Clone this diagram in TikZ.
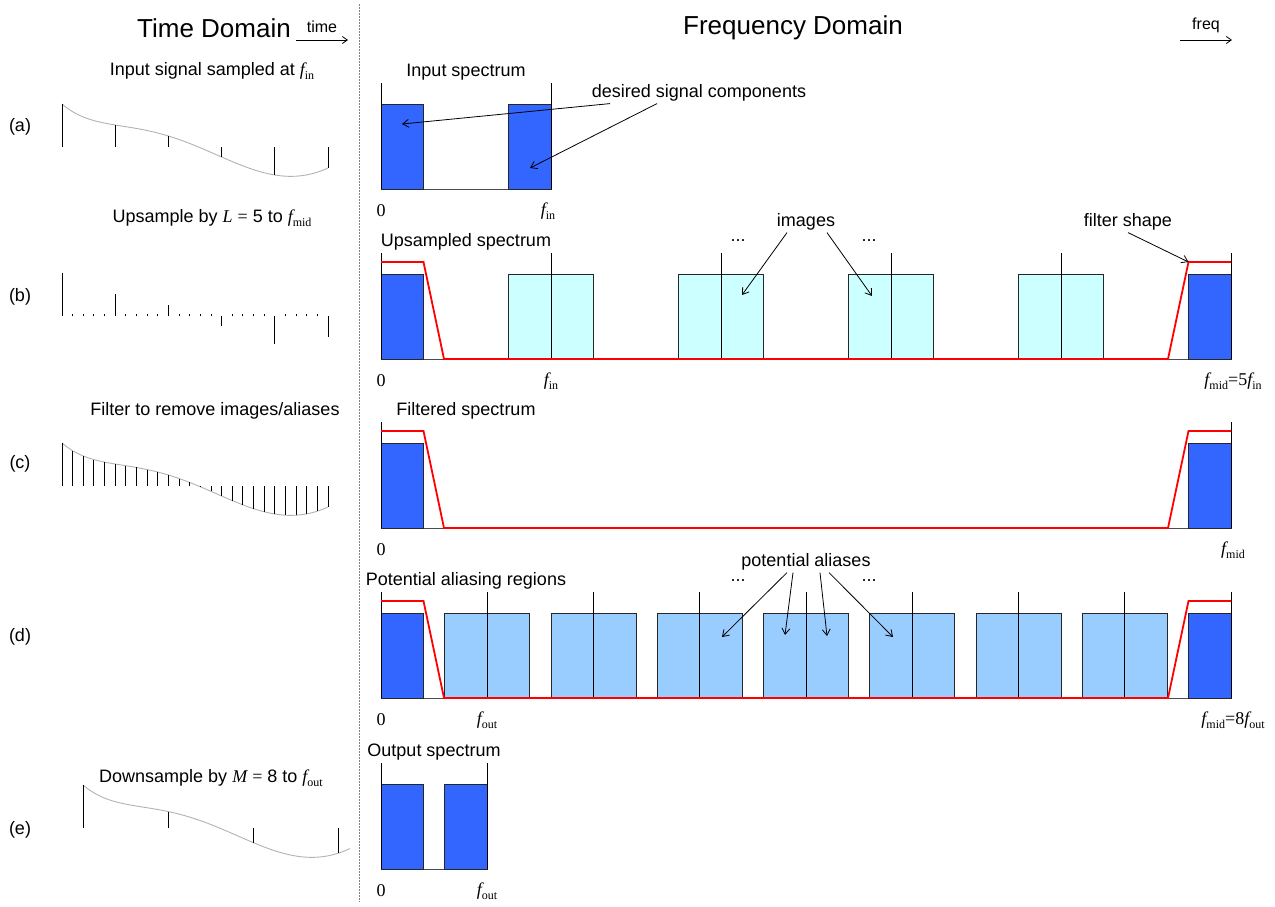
\documentclass[tikz,border=0pt]{standalone}
\usepackage{fontspec}
\setmainfont{Liberation Sans}
\newfontfamily\tms{Liberation Serif}
\usetikzlibrary{arrows.meta, positioning, calc}

\definecolor{specblue}{RGB}{51,102,255}
\definecolor{imgcyan}{RGB}{204,255,255}
\definecolor{aliasblue}{RGB}{153,204,255}

\newcommand{\fq}[1]{{\tms\itshape f}\raisebox{-0.45ex}{\tms\fontsize{12}{12}\selectfont #1}}

\tikzset{
    ttl/.style={font=\fontsize{26}{30}\selectfont},
    lbl/.style={font=\fontsize{18}{21}\selectfont, inner sep=2pt},
    small/.style={font=\fontsize{16}{18}\selectfont, inner sep=1pt},
    flbl/.style={font=\tms\fontsize{18}{21}\selectfont, inner sep=1pt},
    sigline/.style={gray!60, line width=0.9pt},
    stem/.style={black, line width=0.9pt},
    bluebar/.style={draw=black!85, line width=0.8pt, fill=specblue},
    imgbar/.style={draw=black!85, line width=0.8pt, fill=imgcyan},
    aliasbar/.style={draw=black!85, line width=0.8pt, fill=aliasblue},
    axline/.style={black, line width=0.9pt},
    baseln/.style={black!70, line width=0.8pt},
    filt/.style={red, line width=1.8pt},
    ptr/.style={-{Straight Barb[length=6pt,width=8pt]}, line width=0.8pt},
    dirarrow/.style={-{Straight Barb[length=5pt,width=7pt]}, line width=0.8pt}
}

\begin{document}
\begin{tikzpicture}[x=1pt, y=-1pt,
    declare function={sig(\s)=43-21*\s+5*\s*(\s-1)-(10/3)*\s*(\s-1)*(\s-2)+(11/8)*\s*(\s-1)*(\s-2)*(\s-3)-0.2*\s*(\s-1)*(\s-2)*(\s-3)*(\s-4);}]
    \useasboundingbox (0,0) rectangle (1275,906);

    % Headings
    \node[ttl] (tdom) at (214,28) {Time Domain};
    \coordinate (tstart) at (296,40);
    \coordinate (tend) at (348,40);
    \draw[dirarrow] (tstart) -- node[small, above=6pt] (tword) {time} (tend);
    \node[ttl] (fdom) at (793,28) {Frequency Domain};
    \coordinate (fstart) at (1180,40);
    \coordinate (fend) at (1232,40);
    \draw[dirarrow] (fstart) -- node[small, above=6pt] (fword) {freq} (fend);

    % Divider
    \draw[gray, line width=0.9pt, dash pattern=on 1.5pt off 1.5pt] (359,4) -- (359,902);

    % Row labels
    \node[lbl] (ra) at (20,127) {(a)};
    \node[lbl] (rb) at (20,297) {(b)};
    \node[lbl] (rc) at (20,464) {(c)};
    \node[lbl] (rd) at (20,637) {(d)};
    \node[lbl] (re) at (20,830) {(e)};

    % Time domain
    \node[lbl] (tda) at (212,71) {Input signal sampled at \fq{in}};
    \draw[sigline] plot[domain=0:5, samples=61, smooth] ({62+53.2*\x},{147-sig(\x)});
    \foreach \i in {0,...,5}
        \draw[stem] ({62+53.2*\i},147) -- ({62+53.2*\i},{147-sig(\i)});

    \node[lbl] (tdb) at (212,218) {Upsample by {\tms\itshape L} {\tms=} 5 to \fq{mid}};
    \foreach \i in {0,...,5}
        \draw[stem] ({62+53.2*\i},316) -- ({62+53.2*\i},{316-sig(\i)});
    \foreach \i in {0,...,4}
        \foreach \j in {1,...,4}
            \draw[stem] ({62+53.2*\i+10.64*\j},316) -- ++(0,-2.5);

    \node[lbl] (tdc) at (215,411) {Filter to remove images/aliases};
    \draw[sigline] plot[domain=0:5, samples=61, smooth] ({62+53.2*\x},{486-sig(\x)});
    \foreach \i in {0,...,25}
        \draw[stem] ({62+10.64*\i},486) -- ({62+10.64*\i},{486-sig(\i/5)});

    \node[lbl] (tde) at (211,778) {Downsample by {\tms\itshape M} {\tms=} 8 to \fq{out}};
    \draw[sigline] plot[domain=0:5.02, samples=61, smooth] ({83+53.2*\x},{828-sig(\x)});
    \foreach \i in {0,...,3}
        \draw[stem] ({83+85.12*\i},828) -- ({83+85.12*\i},{828-sig(1.6*\i)});

    % (a) input spectrum
    \begin{scope}[shift={(0,189)}]
        \draw[baseln] (381,0) -- (551,0);
        \draw[bluebar] (381,0) rectangle (423.5,-85);
        \draw[bluebar] (508.5,0) rectangle (551,-85);
        \draw[axline] (381,0) -- (381,-106);
        \draw[axline] (551,0) -- (551,-106);
        \node[lbl] (ina) at (466,-117) {Input spectrum};
        \node[flbl] (za) at (381,22) {0};
        \node[flbl] (fa) at (548,22) {\fq{in}};
        \coordinate (dl) at (402,-65);
        \coordinate (dr) at (530,-21);
    \end{scope}
    \node[lbl] (dsc) at (699,93) {desired signal components};
    \draw[ptr] ([xshift=-89pt]dsc.south) -- (dl);
    \draw[ptr] ([xshift=-42pt]dsc.south) -- (dr);

    % (b) upsampled spectrum
    \begin{scope}[shift={(0,359)}]
        \draw[baseln] (381,0) -- (1231,0);
        \foreach \k in {1,...,4}
            \draw[imgbar] ({381+170*\k-42.5},0) rectangle ({381+170*\k+42.5},-85);
        \draw[bluebar] (381,0) rectangle (423.5,-85);
        \draw[bluebar] (1188.5,0) rectangle (1231,-85);
        \foreach \x in {381,551,721,891,1061,1231}
            \draw[axline] (\x,0) -- (\x,-106);
        \draw[filt] (381,-97) -- (423.5,-97) -- (444,0) -- (1168,0) -- (1188.5,-97) -- (1231,-97);
        \node[lbl] (upb) at (466,-117) {Upsampled spectrum};
        \node[lbl] (dotb1) at (738,-118) {...};
        \node[lbl] (dotb2) at (869,-118) {...};
        \coordinate (im1) at (742,-64);
        \coordinate (im2) at (872,-63);
        \coordinate (fcorner) at (1188.5,-97);
        \node[flbl] (zb) at (381,22) {0};
        \node[flbl] (fb) at (551,22) {\fq{in}};
        \node[flbl] (fmb) at (1233,22) {\fq{mid}{\tms =5}\fq{in}};
    \end{scope}
    \node[lbl] (imgs) at (806,222) {images};
    \draw[ptr] ([xshift=-19pt]imgs.south) -- (im1);
    \draw[ptr] ([xshift=21pt]imgs.south) -- (im2);
    \node[lbl] (fshape) at (1128,222) {filter shape};
    \draw[ptr] ([xshift=0pt]fshape.south) -- (fcorner);

    % (c) filtered spectrum
    \begin{scope}[shift={(0,528)}]
        \draw[baseln] (381,0) -- (1231,0);
        \draw[bluebar] (381,0) rectangle (423.5,-85);
        \draw[bluebar] (1188.5,0) rectangle (1231,-85);
        \draw[axline] (381,0) -- (381,-106);
        \draw[axline] (1231,0) -- (1231,-106);
        \draw[filt] (381,-97) -- (423.5,-97) -- (444,0) -- (1168,0) -- (1188.5,-97) -- (1231,-97);
        \node[lbl] (flc) at (466,-117) {Filtered spectrum};
        \node[flbl] (zc) at (381,22) {0};
        \node[flbl] (fmc) at (1233,22) {\fq{mid}};
    \end{scope}

    % (d) potential aliasing regions
    \begin{scope}[shift={(0,698)}]
        \draw[baseln] (381,0) -- (1231,0);
        \foreach \k in {1,...,7}
            \draw[aliasbar] ({381+106.25*\k-42.5},0) rectangle ({381+106.25*\k+42.5},-85);
        \draw[bluebar] (381,0) rectangle (423.5,-85);
        \draw[bluebar] (1188.5,0) rectangle (1231,-85);
        \foreach \k in {0,...,8}
            \draw[axline] ({381+106.25*\k},0) -- ({381+106.25*\k},-106);
        \draw[filt] (381,-97) -- (423.5,-97) -- (444,0) -- (1168,0) -- (1188.5,-97) -- (1231,-97);
        \node[lbl] (pad) at (466,-117) {Potential aliasing regions};
        \node[lbl] (dotd1) at (738,-117) {...};
        \node[lbl] (dotd2) at (869,-117) {...};
        \coordinate (al1) at (722,-61);
        \coordinate (al2) at (785,-63);
        \coordinate (al3) at (827,-62);
        \coordinate (al4) at (893,-61);
        \node[flbl] (zd) at (381,22) {0};
        \node[flbl] (fd) at (487,22) {\fq{out}};
        \node[flbl] (fmd) at (1233,22) {\fq{mid}{\tms =8}\fq{out}};
    \end{scope}
    \node[lbl] (pal) at (806,562) {potential aliases};
    \draw[ptr] ([xshift=-19pt]pal.south) -- (al1);
    \draw[ptr] ([xshift=-13pt]pal.south) -- (al2);
    \draw[ptr] ([xshift=14pt]pal.south) -- (al3);
    \draw[ptr] ([xshift=23pt]pal.south) -- (al4);

    % (e) output spectrum
    \begin{scope}[shift={(0,869)}]
        \draw[baseln] (381,0) -- (487.25,0);
        \draw[bluebar] (381,0) rectangle (423.5,-85);
        \draw[bluebar] (444.75,0) rectangle (487.25,-85);
        \draw[axline] (381,0) -- (381,-106);
        \draw[axline] (487.25,0) -- (487.25,-106);
        \node[lbl] (oue) at (434,-117) {Output spectrum};
        \node[flbl] (ze) at (381,22) {0};
        \node[flbl] (fe) at (487,22) {\fq{out}};
    \end{scope}

\end{tikzpicture}
\end{document}
